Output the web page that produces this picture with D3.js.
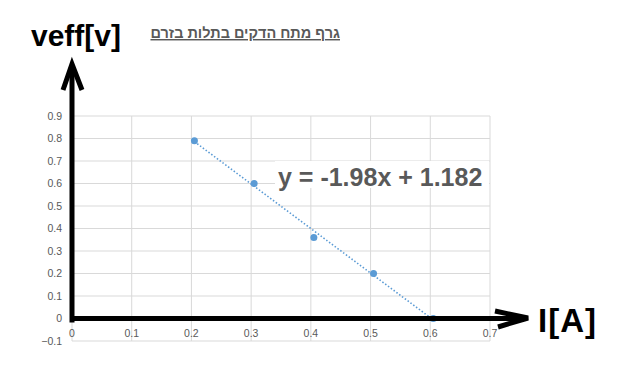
<!DOCTYPE html>
<html>
<head>
<meta charset="utf-8">
<script src="https://cdn.jsdelivr.net/npm/d3@7"></script>
<style>
  body { margin: 0; background: #fff; }
  svg { display: block; }
</style>
</head>
<body>
<div id="chart"></div>
<script>
const currentA = [0.205, 0.305, 0.405, 0.505, 0.605];
const voltageV = [0.79, 0.6, 0.36, 0.2, 0];
const xTicks = [0, 0.1, 0.2, 0.3, 0.4, 0.5, 0.6, 0.7];
const yTicks = [-0.1, 0, 0.1, 0.2, 0.3, 0.4, 0.5, 0.6, 0.7, 0.8, 0.9];
const title = "גרף מתח הדקים בתלות בזרם";
const equation = "y = -1.98x + 1.182";

const width = 632, height = 378;
const blue = "#5b9bd5";
const grey = "#595959";

const svg = d3.select("#chart").append("svg")
    .attr("width", width)
    .attr("height", height);

const x = d3.scaleLinear().domain([0, 0.7]).range([72, 490]);
const y = d3.scaleLinear().domain([-0.1, 0.9]).range([341, 116]);

// grid
svg.append("g").selectAll("line").data(xTicks).join("line")
    .attr("x1", d => x(d)).attr("x2", d => x(d))
    .attr("y1", y(0.9)).attr("y2", y(-0.1))
    .attr("stroke", "#d9d9d9").attr("stroke-width", 1);
svg.append("g").selectAll("line").data(yTicks).join("line")
    .attr("x1", x(0)).attr("x2", x(0.7))
    .attr("y1", d => y(d)).attr("y2", d => y(d))
    .attr("stroke", "#d9d9d9").attr("stroke-width", 1);

// tick labels
svg.append("g").selectAll("text").data(yTicks).join("text")
    .attr("x", 62).attr("y", d => y(d) + 3.5)
    .attr("text-anchor", "end")
    .attr("font-family", "Liberation Sans, Arial, sans-serif")
    .attr("font-size", "10.5px").attr("fill", grey)
    .text(d => d3.format("")(+d.toFixed(1)));
svg.append("g").selectAll("text").data(xTicks).join("text")
    .attr("x", d => x(d)).attr("y", 337)
    .attr("text-anchor", "middle")
    .attr("font-family", "Liberation Sans, Arial, sans-serif")
    .attr("font-size", "10.5px").attr("fill", grey)
    .text(d => d3.format("")(+d.toFixed(1)));

// trendline (least squares)
const mx = d3.mean(currentA), my = d3.mean(voltageV);
const slope = d3.sum(currentA, (d, i) => (d - mx) * (voltageV[i] - my)) /
    d3.sum(currentA, d => (d - mx) * (d - mx));
const icpt = my - slope * mx;
const xr = d3.extent(currentA);
svg.append("line")
    .attr("x1", x(xr[0])).attr("y1", y(slope * xr[0] + icpt))
    .attr("x2", x(xr[1])).attr("y2", y(slope * xr[1] + icpt))
    .attr("stroke", blue).attr("stroke-width", 1.6)
    .attr("stroke-dasharray", "1.5,2");

// points
svg.append("g").selectAll("circle").data(currentA).join("circle")
    .attr("cx", d => x(d)).attr("cy", (d, i) => y(voltageV[i]))
    .attr("r", 3.5).attr("fill", blue);

// equation label
svg.append("rect")
    .attr("x", 275).attr("y", 161).attr("width", 214).attr("height", 27)
    .attr("fill", "#fff");
svg.append("text")
    .attr("x", 278).attr("y", 186)
    .attr("font-family", "Liberation Sans, Arial, sans-serif")
    .attr("font-weight", "bold").attr("font-size", "25px")
    .attr("fill", grey)
    .text(equation);

// thick hand-drawn axes
const axes = svg.append("g").attr("stroke", "#000").attr("fill", "none")
    .attr("stroke-width", 5);
axes.append("line").attr("x1", x(0)).attr("x2", x(0)).attr("y1", y(0) + 4).attr("y2", 66);
axes.append("polyline").attr("points", "63,90 72,64 82,90")
    .attr("stroke-linejoin", "miter");
axes.append("line").attr("x1", x(0) - 2).attr("x2", 522).attr("y1", y(0)).attr("y2", y(0));
axes.append("polyline").attr("points", "495,311 528,318 498,327")
    .attr("stroke-linejoin", "miter");

// axis names
svg.append("text")
    .attr("x", 31).attr("y", 46)
    .attr("font-family", "Liberation Sans, Arial, sans-serif")
    .attr("font-weight", "bold").attr("font-size", "30px")
    .attr("fill", "#000")
    .text("veff[v]");
svg.append("text")
    .attr("x", 538).attr("y", 332)
    .attr("font-family", "Liberation Sans, Arial, sans-serif")
    .attr("font-weight", "bold").attr("font-size", "33px")
    .attr("letter-spacing", "1px")
    .attr("fill", "#000")
    .text("I[A]");

// title
svg.append("text")
    .attr("x", 340).attr("y", 38)
    .attr("direction", "rtl")
    .attr("font-family", "Liberation Sans, Arial, sans-serif")
    .attr("font-weight", "bold").attr("font-size", "14.5px")
    .attr("text-decoration", "underline")
    .attr("fill", grey)
    .text(title);
</script>
</body>
</html>
